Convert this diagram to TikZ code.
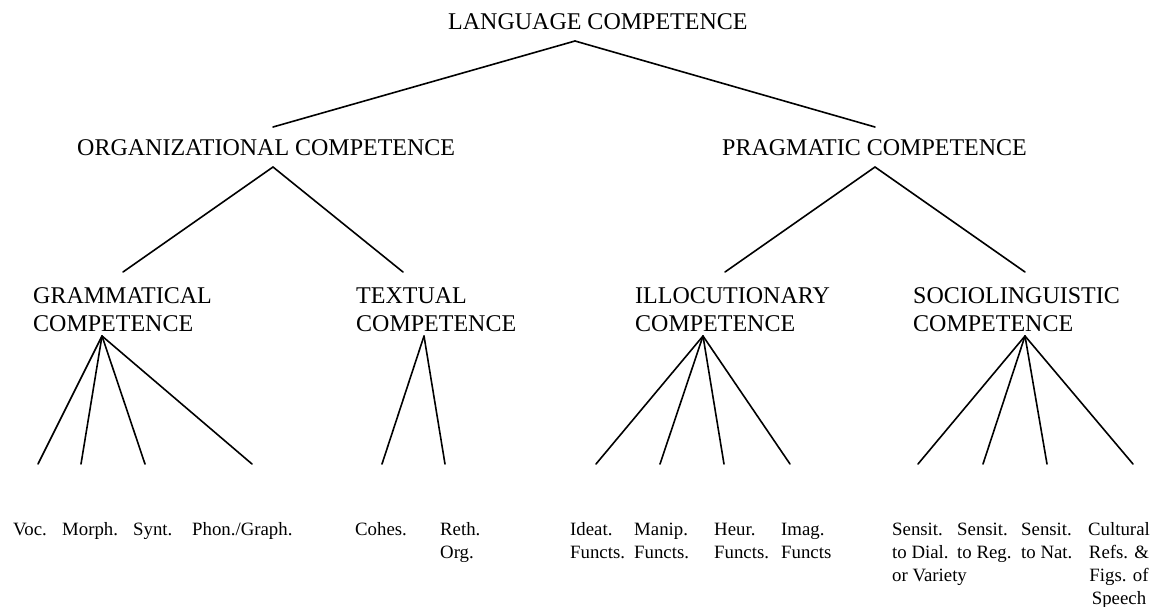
\documentclass[tikz,border=0pt]{standalone}
\usepackage{fontspec}
\setmainfont{Liberation Serif}
\usetikzlibrary{positioning}

\begin{document}
\begin{tikzpicture}[x=1pt,y=-1pt,
        level/.style={font=\fontsize{24}{28}\selectfont,anchor=base west,
          inner sep=0pt,align=left},
        leaf/.style={font=\fontsize{18.8}{23}\selectfont,anchor=base west,
          inner sep=0pt,align=left},
        branch/.style={line width=1.6pt,line cap=round}]
      \useasboundingbox (0,0) rectangle (1160,606);
      % competences (base = last line)
      \node[level] (lang) at (448,29) {LANGUAGE COMPETENCE};
      \node[level] (org) at (77,155) {ORGANIZATIONAL COMPETENCE};
      \node[level] (prag) at (722,155) {PRAGMATIC COMPETENCE};
      \node[level] (gram) at (33,331) {GRAMMATICAL\\COMPETENCE};
      \node[level] (textual) at (356,331) {TEXTUAL\\COMPETENCE};
      \node[level] (illoc) at (635,331) {ILLOCUTIONARY\\COMPETENCE};
      \node[level] (socio) at (913,331) {SOCIOLINGUISTIC\\COMPETENCE};
      % leaves
      \node[leaf] (voc) at (13,535) {Voc.};
      \node[leaf] (morph) at (62,535) {Morph.};
      \node[leaf] (synt) at (133,535) {Synt.};
      \node[leaf] (phon) at (192,535) {Phon./Graph.};
      \node[leaf] (cohes) at (355,535) {Cohes.};
      \node[leaf] (reth) at (440,558) {Reth.\\Org.};
      \node[leaf] (ideat) at (570,558) {Ideat.\\Functs.};
      \node[leaf] (manip) at (634,558) {Manip.\\Functs.};
      \node[leaf] (heur) at (714,558) {Heur.\\Functs.};
      \node[leaf] (imag) at (781,558) {Imag.\\Functs};
      \node[leaf] (dial) at (892,581) {Sensit.\\to Dial.\\or Variety};
      \node[leaf] (reg) at (957,558) {Sensit.\\to Reg.};
      \node[leaf] (nat) at (1021,558) {Sensit.\\to Nat.};
      \node[leaf,anchor=base,align=center] (cult) at (1119,604)
        {Cultural\\Refs. \&\\Figs. of\\Speech};
      % branch points
      \coordinate (lang-a) at (575,41);
      \coordinate (org-t) at (273,127);
      \coordinate (prag-t) at (875,127);
      \coordinate (org-a) at (273,167);
      \coordinate (prag-a) at (875,167);
      \coordinate (gram-t) at (123,272);
      \coordinate (textual-t) at (403,272);
      \coordinate (illoc-t) at (725,272);
      \coordinate (socio-t) at (1025,272);
      \coordinate (gram-a) at (102,336);
      \coordinate (textual-a) at (424,336);
      \coordinate (illoc-a) at (703,336);
      \coordinate (socio-a) at (1025,336);
      \coordinate (voc-e) at (38,464);
      \coordinate (morph-e) at (81,464);
      \coordinate (synt-e) at (145,464);
      \coordinate (phon-e) at (252,464);
      \coordinate (cohes-e) at (382,464);
      \coordinate (reth-e) at (445,464);
      \coordinate (ideat-e) at (596,464);
      \coordinate (manip-e) at (660,464);
      \coordinate (heur-e) at (724,464);
      \coordinate (imag-e) at (790,464);
      \coordinate (dial-e) at (918,464);
      \coordinate (reg-e) at (983,464);
      \coordinate (nat-e) at (1047,464);
      \coordinate (cult-e) at (1133,464);
      \path[branch]
        (lang-a) edge (org-t)
        (lang-a) edge (prag-t)
        (org-a) edge (gram-t)
        (org-a) edge (textual-t)
        (prag-a) edge (illoc-t)
        (prag-a) edge (socio-t)
        (gram-a) edge (voc-e)
        (gram-a) edge (morph-e)
        (gram-a) edge (synt-e)
        (gram-a) edge (phon-e)
        (textual-a) edge (cohes-e)
        (textual-a) edge (reth-e)
        (illoc-a) edge (ideat-e)
        (illoc-a) edge (manip-e)
        (illoc-a) edge (heur-e)
        (illoc-a) edge (imag-e)
        (socio-a) edge (dial-e)
        (socio-a) edge (reg-e)
        (socio-a) edge (nat-e)
        (socio-a) edge (cult-e);
    \end{tikzpicture}
\end{document}
